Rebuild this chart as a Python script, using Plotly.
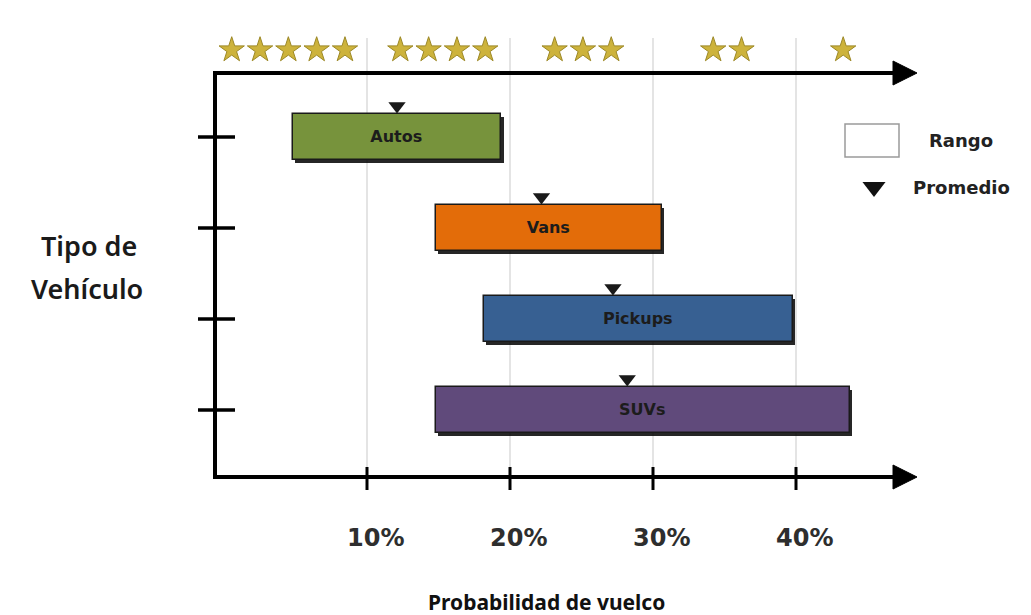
import plotly.graph_objects as go

# ---- data ----
vehicles = ["Autos", "Vans", "Pickups", "SUVs"]
range_low = [4.8, 14.8, 18.2, 14.8]
range_high = [19.4, 30.6, 39.8, 43.8]
mean_val = [12.1, 22.2, 27.2, 28.2]
colors = ["#77933C", "#E36C09", "#376092", "#604A7B"]
x_ticks = [10, 20, 30, 40]
x_tick_labels = ["10%", "20%", "30%", "40%"]
star_counts = [5, 4, 3, 2, 1]
star_centers = [4.5, 15.3, 25.1, 35.2, 43.3]

# ---- geometry (pixel mapping helpers) ----
W, H = 1031, 615
X0PX, XSCALE = 224.0, 14.3      # px of 0%, px per 1%
Y0PX, YSCALE = 137.0, 91.0      # px of first category, px per category
xr = [(0 - X0PX) / XSCALE, (W - X0PX) / XSCALE]
yr = [(H - Y0PX) / YSCALE, (0 - Y0PX) / YSCALE]

def ux(px):
    return (px - X0PX) / XSCALE

def uy(py):
    return (py - Y0PX) / YSCALE

ypos = list(range(len(vehicles)))
fig = go.Figure()

# shadows
fig.add_trace(go.Bar(
    y=[p + 0.035 for p in ypos], x=[h - l for l, h in zip(range_low, range_high)],
    base=[l + 0.15 for l in range_low], orientation="h", width=0.5,
    marker=dict(color="rgba(0,0,0,0.85)", line=dict(width=0)),
    hoverinfo="skip", showlegend=False))
# bars
fig.add_trace(go.Bar(
    y=ypos, x=[h - l for l, h in zip(range_low, range_high)], base=range_low,
    orientation="h", width=0.5,
    marker=dict(color=colors, line=dict(color="#1a1a1a", width=1.5)),
    text=vehicles, textposition="inside", insidetextanchor="middle",
    textfont=dict(family="DejaVu Sans", size=16, color="#1c1c1c", weight="bold"),
    showlegend=False, hoverinfo="skip"))
# means
fig.add_trace(go.Scatter(
    x=mean_val, y=[p - 0.34 for p in ypos], mode="markers",
    marker=dict(symbol="triangle-down", size=15, color="#1a1a1a"),
    showlegend=False, hoverinfo="skip"))
# stars
sx, sy = [], []
for n, c in zip(star_counts, star_centers):
    for k in range(n):
        sx.append(c + (k - (n - 1) / 2) * 1.98)
        sy.append(uy(50))
fig.add_trace(go.Scatter(
    x=sx, y=sy, mode="markers",
    marker=dict(symbol="star", size=19, color="#CDB33C",
                line=dict(color="#9C8826", width=1)),
    showlegend=False, hoverinfo="skip"))

shapes = []
# gridlines
for t in x_ticks:
    shapes.append(dict(type="line", xref="x", yref="y", x0=t, x1=t,
                       y0=uy(38), y1=uy(477), line=dict(color="#c9c9c9", width=1), layer="below"))
# axes
ax_x = ux(215)
shapes.append(dict(type="line", xref="x", yref="y", x0=ax_x, x1=ax_x,
                   y0=uy(71), y1=uy(479), line=dict(color="black", width=4)))
for ypx in (73, 477):
    shapes.append(dict(type="line", xref="x", yref="y", x0=ux(213), x1=ux(900),
                       y0=uy(ypx), y1=uy(ypx), line=dict(color="black", width=4)))
    shapes.append(dict(type="path", xref="x", yref="y",
                       path=f"M {ux(893)},{uy(ypx-12)} L {ux(917)},{uy(ypx)} L {ux(893)},{uy(ypx+12)} Z",
                       fillcolor="black", line=dict(color="black", width=1)))
# x ticks
for t in x_ticks:
    shapes.append(dict(type="line", xref="x", yref="y", x0=t, x1=t,
                       y0=uy(467), y1=uy(490), line=dict(color="black", width=3)))
# y ticks
for p in ypos:
    shapes.append(dict(type="line", xref="x", yref="y", x0=ux(198), x1=ux(235),
                       y0=p, y1=p, line=dict(color="black", width=3.5)))
# legend rectangle
shapes.append(dict(type="rect", xref="x", yref="y", x0=ux(845), x1=ux(899),
                   y0=uy(124), y1=uy(157), line=dict(color="#9a9a9a", width=1.5),
                   fillcolor="white"))

annotations = []
for t, lab in zip(x_ticks, x_tick_labels):
    annotations.append(dict(x=t + 0.6, y=uy(538), xref="x", yref="y", text=lab,
                            showarrow=False, font=dict(family="DejaVu Sans", size=24,
                                                       color="#2e2e2e", weight="bold")))
annotations.append(dict(x=ux(546), y=uy(602), xref="x", yref="y",
                        text="Probabilidad de vuelco", showarrow=False,
                        font=dict(family="Noto Sans", size=21, color="#111111", weight="bold")))
annotations.append(dict(x=ux(89), y=uy(245), xref="x", yref="y",
                        text="Tipo de", showarrow=False,
                        font=dict(family="Noto Sans", size=27, color="#1a1a1a", weight=600)))
annotations.append(dict(x=ux(87), y=uy(288), xref="x", yref="y",
                        text="Vehículo", showarrow=False,
                        font=dict(family="Noto Sans", size=27, color="#1a1a1a", weight=600)))
annotations.append(dict(x=ux(961), y=uy(140), xref="x", yref="y", text="Rango",
                        showarrow=False, font=dict(family="DejaVu Sans", size=18,
                                                   color="#222222", weight="bold")))
annotations.append(dict(x=ux(961), y=uy(187), xref="x", yref="y", text="Promedio",
                        showarrow=False, font=dict(family="DejaVu Sans", size=18,
                                                   color="#222222", weight="bold")))
# legend triangle
fig.add_trace(go.Scatter(x=[ux(874)], y=[uy(187)], mode="markers",
                         marker=dict(symbol="triangle-down", size=20, color="#111111"),
                         showlegend=False, hoverinfo="skip"))

fig.update_layout(
    width=W, height=H, margin=dict(l=0, r=0, t=0, b=0),
    paper_bgcolor="white", plot_bgcolor="white",
    xaxis=dict(range=xr, visible=False, fixedrange=True),
    yaxis=dict(range=yr, visible=False, fixedrange=True),
    shapes=shapes, annotations=annotations, barmode="overlay",
    bargap=0,
)
fig.write_html("out.html")
